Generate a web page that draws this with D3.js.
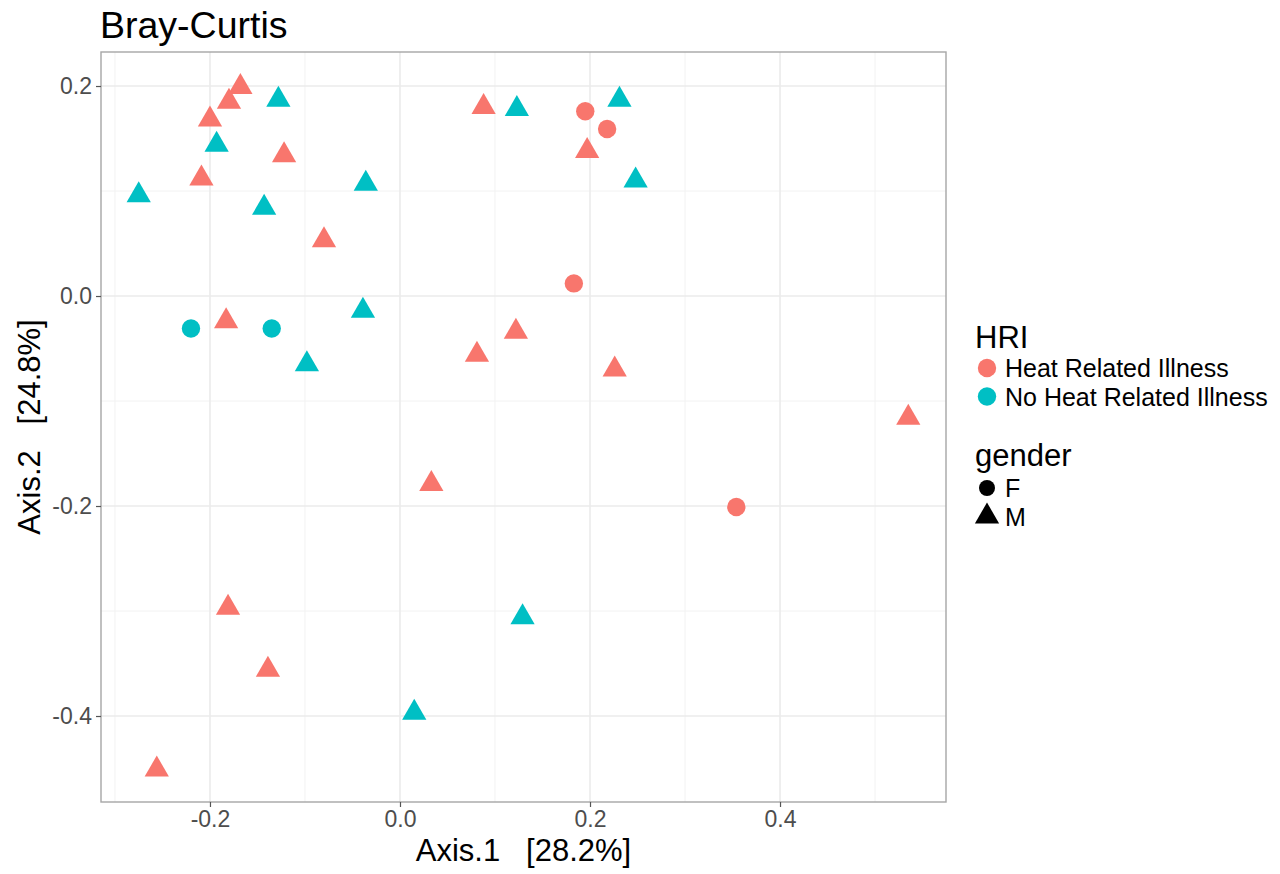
<!DOCTYPE html>
<html>
<head>
<meta charset="utf-8">
<script src="https://cdn.jsdelivr.net/npm/d3@7"></script>
<style>
  html, body { margin: 0; padding: 0; background: #fff; }
  svg { display: block; font-family: "Liberation Sans", Arial, Helvetica, sans-serif; }
</style>
</head>
<body>
<svg id="chart" width="1280" height="874"></svg>
<script>
// ---- data ----
const axis1 = [-0.168, -0.180, -0.128, -0.200, -0.193, -0.122, -0.209, -0.275, -0.036, -0.143, -0.080, -0.039,
               -0.220, -0.183, -0.135, -0.098, 0.088, 0.123, 0.195, 0.218, 0.231, 0.197, 0.248, 0.183,
               0.081, 0.122, 0.226, 0.535, 0.354, 0.033, -0.181, -0.139, 0.129, 0.015, -0.256];
const axis2 = [0.199, 0.185, 0.187, 0.168, 0.144, 0.134, 0.112, 0.096, 0.107, 0.084, 0.053, -0.014,
               -0.031, -0.024, -0.031, -0.065, 0.180, 0.178, 0.176, 0.159, 0.187, 0.138, 0.110, 0.012,
               -0.056, -0.034, -0.070, -0.116, -0.201, -0.179, -0.297, -0.356, -0.306, -0.397, -0.451];
const hri = ["Heat Related Illness", "Heat Related Illness", "No Heat Related Illness", "Heat Related Illness",
             "No Heat Related Illness", "Heat Related Illness", "Heat Related Illness", "No Heat Related Illness",
             "No Heat Related Illness", "No Heat Related Illness", "Heat Related Illness", "No Heat Related Illness",
             "No Heat Related Illness", "Heat Related Illness", "No Heat Related Illness", "No Heat Related Illness",
             "Heat Related Illness", "No Heat Related Illness", "Heat Related Illness", "Heat Related Illness",
             "No Heat Related Illness", "Heat Related Illness", "No Heat Related Illness", "Heat Related Illness",
             "Heat Related Illness", "Heat Related Illness", "Heat Related Illness", "Heat Related Illness",
             "Heat Related Illness", "Heat Related Illness", "Heat Related Illness", "Heat Related Illness",
             "No Heat Related Illness", "No Heat Related Illness", "Heat Related Illness"];
const gender = ["M", "M", "M", "M", "M", "M", "M", "M", "M", "M", "M", "M",
                "F", "M", "F", "M", "M", "M", "F", "F", "M", "M", "M", "F",
                "M", "M", "M", "M", "F", "M", "M", "M", "M", "M", "M"];
const hriLevels = ["Heat Related Illness", "No Heat Related Illness"];
const hriColors = ["#F8766D", "#00BFC4"];
const genderLevels = ["F", "M"];
const xTicks = [-0.2, 0.0, 0.2, 0.4];
const yTicks = [-0.4, -0.2, 0.0, 0.2];
const xMinor = [-0.3, -0.1, 0.1, 0.3, 0.5];
const yMinor = [-0.3, -0.1, 0.1];
const xDomain = [-0.3147, 0.5747];
const yDomain = [-0.4819, 0.2324];
const title = "Bray-Curtis";
const xTitle = "Axis.1   [28.2%]";
const yTitle = "Axis.2   [24.8%]";

// ---- layout ----
const svg = d3.select("#chart");
const P = { left: 101, right: 946, top: 52, bottom: 802 };
const x = d3.scaleLinear().domain(xDomain).range([P.left, P.right]);
const y = d3.scaleLinear().domain(yDomain).range([P.bottom, P.top]);
const color = d3.scaleOrdinal().domain(hriLevels).range(hriColors);

const data = axis1.map((v, i) => ({ x: v, y: axis2[i], hri: hri[i], gender: gender[i] }));

// panel background
svg.append("rect").attr("x", P.left).attr("y", P.top)
  .attr("width", P.right - P.left).attr("height", P.bottom - P.top).attr("fill", "#fff");

// grid
const g = svg.append("g");
g.selectAll(".xminor").data(xMinor).enter().append("line")
  .attr("x1", d => x(d)).attr("x2", d => x(d)).attr("y1", P.top).attr("y2", P.bottom)
  .attr("stroke", "#F2F2F2").attr("stroke-width", 1);
g.selectAll(".yminor").data(yMinor).enter().append("line")
  .attr("y1", d => y(d)).attr("y2", d => y(d)).attr("x1", P.left).attr("x2", P.right)
  .attr("stroke", "#F2F2F2").attr("stroke-width", 1);
g.selectAll(".xmajor").data(xTicks).enter().append("line")
  .attr("x1", d => x(d)).attr("x2", d => x(d)).attr("y1", P.top).attr("y2", P.bottom)
  .attr("stroke", "#EBEBEB").attr("stroke-width", 1.6);
g.selectAll(".ymajor").data(yTicks).enter().append("line")
  .attr("y1", d => y(d)).attr("y2", d => y(d)).attr("x1", P.left).attr("x2", P.right)
  .attr("stroke", "#EBEBEB").attr("stroke-width", 1.6);

// points
const triSize = 49 * 3 * Math.sqrt(3);
const circSize = Math.PI * 9.2 * 9.2;
svg.append("g").selectAll("path").data(data).enter().append("path")
  .attr("transform", d => `translate(${x(d.x)},${y(d.y)})`)
  .attr("d", d => d3.symbol().type(d.gender === "F" ? d3.symbolCircle : d3.symbolTriangle)
      .size(d.gender === "F" ? circSize : triSize)())
  .attr("fill", d => color(d.hri));

// border
svg.append("rect").attr("x", P.left).attr("y", P.top)
  .attr("width", P.right - P.left).attr("height", P.bottom - P.top)
  .attr("fill", "none").attr("stroke", "#A6A6A6").attr("stroke-width", 1.4);

// axes
const fmt = d => d3.format(".1f")(d).replace("−", "-");
const xAxis = svg.append("g").attr("transform", `translate(0,${P.bottom})`)
  .call(d3.axisBottom(x).tickValues(xTicks).tickFormat(fmt).tickSize(5).tickPadding(4));
const yAxis = svg.append("g").attr("transform", `translate(${P.left},0)`)
  .call(d3.axisLeft(y).tickValues(yTicks).tickFormat(fmt).tickSize(5).tickPadding(4));
[xAxis, yAxis].forEach(a => {
  a.select(".domain").remove();
  a.selectAll(".tick line").attr("stroke", "#555").attr("stroke-width", 1.2);
  a.selectAll(".tick text").attr("fill", "#4D4D4D").attr("font-size", 23)
    .attr("font-family", "'Liberation Sans', Arial, sans-serif");
});

// titles
svg.append("text").attr("x", P.left - 1).attr("y", 38).attr("font-size", 37.5).attr("fill", "#000").text(title);
svg.append("text").attr("x", (P.left + P.right) / 2).attr("y", 861).attr("text-anchor", "middle")
  .attr("font-size", 31).attr("fill", "#000").style("white-space", "pre").text(xTitle);
svg.append("text").attr("transform", `translate(40,${(P.top + P.bottom) / 2}) rotate(-90)`)
  .attr("text-anchor", "middle").attr("font-size", 31).attr("fill", "#000")
  .style("white-space", "pre").text(yTitle);

// legends
const L = svg.append("g");
L.append("text").attr("x", 975).attr("y", 348).attr("font-size", 31).text("HRI");
hriLevels.forEach((lv, i) => {
  const cy = 368 + i * 28.5;
  L.append("path").attr("transform", `translate(987,${cy})`)
    .attr("d", d3.symbol().type(d3.symbolCircle).size(circSize)()).attr("fill", hriColors[i]);
  L.append("text").attr("x", 1005).attr("y", cy + 9).attr("font-size", 25).text(lv);
});
L.append("text").attr("x", 975).attr("y", 466).attr("font-size", 31).text("gender");
genderLevels.forEach((lv, i) => {
  const cy = 488 + i * 28.5;
  L.append("path").attr("transform", `translate(987,${cy})`)
    .attr("d", d3.symbol().type(lv === "F" ? d3.symbolCircle : d3.symbolTriangle)
      .size(lv === "F" ? Math.PI * 8 * 8 : triSize)())
    .attr("fill", "#000");
  L.append("text").attr("x", 1005).attr("y", cy + 9).attr("font-size", 25).text(lv);
});
</script>
</body>
</html>
